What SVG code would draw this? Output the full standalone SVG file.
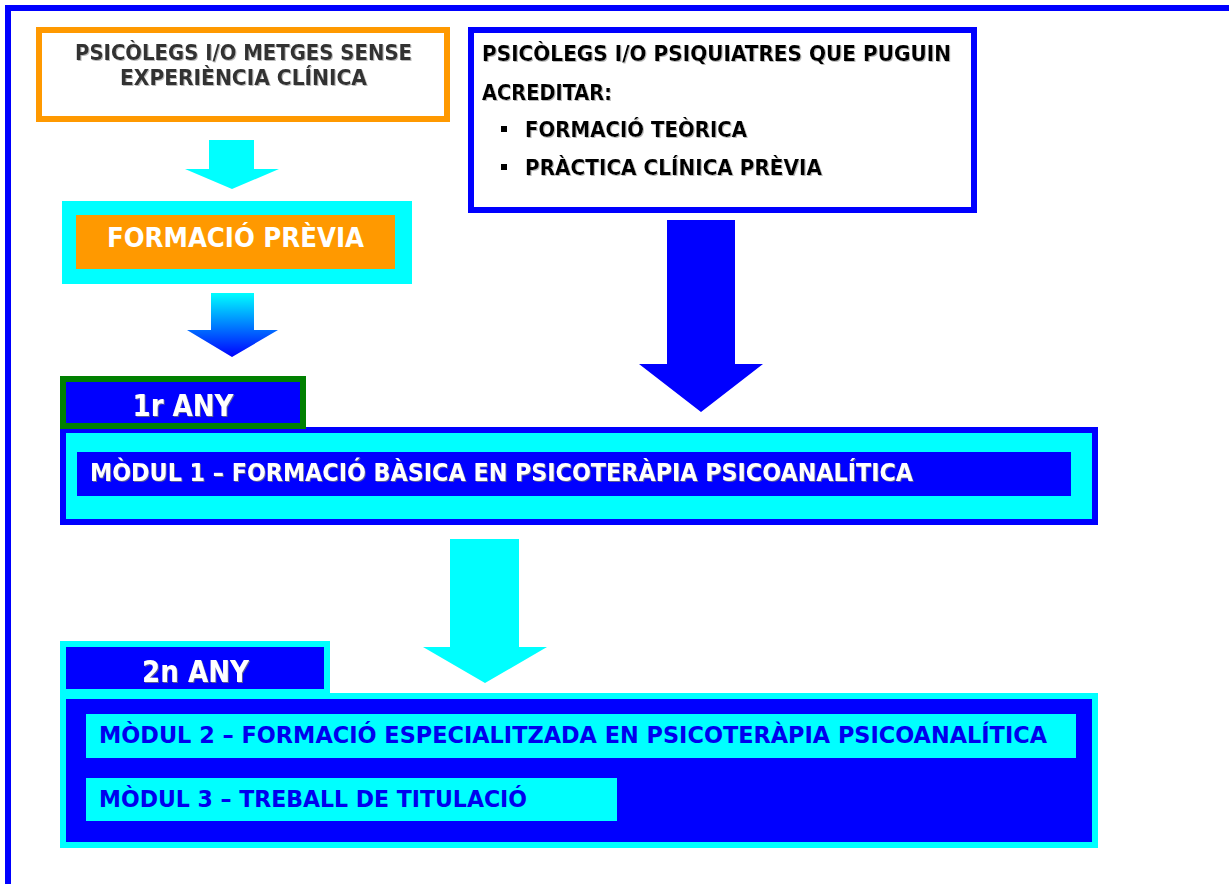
<svg xmlns="http://www.w3.org/2000/svg" width="1229" height="884" viewBox="0 0 1229 884">
<style>
  text { font-family: "DejaVu Sans Condensed", "DejaVu Sans", Verdana, sans-serif; font-weight: bold; }
  .dark { fill: #333333; filter: url(#sh); }
  .black { fill: #000000; filter: url(#sh); }
  .white { fill: #FFFFFF; }
  .whs { fill: #FFFFFF; filter: url(#sh2); }
  .blue { fill: #0000EE; }
  .cyan { fill: #00FFFF; }
  .bl { fill: #0000FF; }
</style>
<defs>
  <filter id="sh" x="-5%" y="-20%" width="110%" height="150%">
    <feDropShadow dx="1" dy="1" stdDeviation="0.5" flood-color="#AAAAAA" flood-opacity="0.8"/>
  </filter>
  <filter id="sh2" x="-5%" y="-20%" width="110%" height="150%">
    <feDropShadow dx="1" dy="1" stdDeviation="0.5" flood-color="#777777" flood-opacity="0.8"/>
  </filter>
  <linearGradient id="grad" x1="0" y1="0" x2="0" y2="1">
    <stop offset="0" stop-color="#00FFFF"/>
    <stop offset="1" stop-color="#0000FF"/>
  </linearGradient>
</defs>
<rect width="1229" height="884" fill="#FFFFFF"/>
<path d="M8 884 V8 H1229" fill="none" stroke="#0000FF" stroke-width="6"/>

<g id="node-sense-experiencia">
  <rect x="39" y="30" width="408" height="89" fill="#FFFFFF" stroke="#FF9900" stroke-width="6"/>
  <text class="dark" x="243.5" y="60" font-size="22" text-anchor="middle" textLength="337" lengthAdjust="spacingAndGlyphs">PSICÒLEGS I/O METGES SENSE</text>
  <text class="dark" x="243.5" y="85" font-size="22" text-anchor="middle" textLength="247" lengthAdjust="spacingAndGlyphs">EXPERIÈNCIA CLÍNICA</text>
</g>

<g id="node-acreditar">
  <rect x="471" y="30" width="503" height="180" fill="#FFFFFF" stroke="#0000FF" stroke-width="6"/>
  <text class="black" x="482" y="61" font-size="22" textLength="469" lengthAdjust="spacingAndGlyphs">PSICÒLEGS I/O PSIQUIATRES QUE PUGUIN</text>
  <text class="black" x="482" y="100" font-size="22" textLength="130" lengthAdjust="spacingAndGlyphs">ACREDITAR:</text>
  <rect x="501" y="126" width="6" height="6" fill="#000000"/>
  <text class="black" x="525" y="137" font-size="22" textLength="222" lengthAdjust="spacingAndGlyphs">FORMACIÓ TEÒRICA</text>
  <rect x="501" y="164" width="6" height="6" fill="#000000"/>
  <text class="black" x="525" y="175" font-size="22" textLength="297" lengthAdjust="spacingAndGlyphs">PRÀCTICA CLÍNICA PRÈVIA</text>
</g>

<g id="node-formacio-previa">
  <rect x="62" y="201" width="350" height="83" class="cyan"/>
  <rect x="76" y="215" width="319" height="54" fill="#FF9900"/>
  <text class="white" x="235.5" y="247" font-size="27" text-anchor="middle" textLength="257" lengthAdjust="spacingAndGlyphs">FORMACIÓ PRÈVIA</text>
</g>

<g id="node-modul1">
  <rect x="63" y="430" width="1032" height="92" fill="#00FFFF" stroke="#0000FF" stroke-width="6"/>
  <rect x="77" y="452" width="994" height="44" class="bl"/>
  <text class="whs" x="90" y="481" font-size="25" textLength="823" lengthAdjust="spacingAndGlyphs">MÒDUL 1 – FORMACIÓ BÀSICA EN PSICOTERÀPIA PSICOANALÍTICA</text>
</g>

<g id="node-1r-any">
  <rect x="63" y="379" width="240" height="47" fill="#0000FF" stroke="#008000" stroke-width="6"/>
  <text class="whs" x="183" y="416" font-size="31" text-anchor="middle" textLength="101" lengthAdjust="spacingAndGlyphs">1r ANY</text>
</g>

<g id="node-2n-any">
  <rect x="60" y="641" width="270" height="58" class="cyan"/>
  <rect x="60" y="693" width="1038" height="155" class="cyan"/>
  <rect x="66" y="647" width="258" height="42" class="bl"/>
  <rect x="66" y="699" width="1026" height="143" class="bl"/>
  <text class="whs" x="195.5" y="682" font-size="31" text-anchor="middle" textLength="107" lengthAdjust="spacingAndGlyphs">2n ANY</text>
</g>

<g id="node-modul2">
  <rect x="86" y="714" width="990" height="44" class="cyan"/>
  <text class="blue" x="99" y="743" font-size="23" textLength="948" lengthAdjust="spacingAndGlyphs">MÒDUL 2 – FORMACIÓ ESPECIALITZADA  EN PSICOTERÀPIA PSICOANALÍTICA</text>
</g>

<g id="node-modul3">
  <rect x="86" y="778" width="531" height="43" class="cyan"/>
  <text class="blue" x="99" y="807" font-size="23" textLength="428" lengthAdjust="spacingAndGlyphs">MÒDUL 3 – TREBALL DE TITULACIÓ</text>
</g>

<g id="connectors">
  <polygon points="209,140 254,140 254,169 279,169 232,189 185,169 209,169" fill="#00FFFF"/>
  <polygon points="211,293 254,293 254,330 278,330 232,357 187,330 211,330" fill="url(#grad)"/>
  <polygon points="667,220 735,220 735,364 763,364 701,412 639,364 667,364" fill="#0000FF"/>
  <polygon points="450,539 519,539 519,647 547,647 485,683 423,647 450,647" fill="#00FFFF"/>
</g>
</svg>
